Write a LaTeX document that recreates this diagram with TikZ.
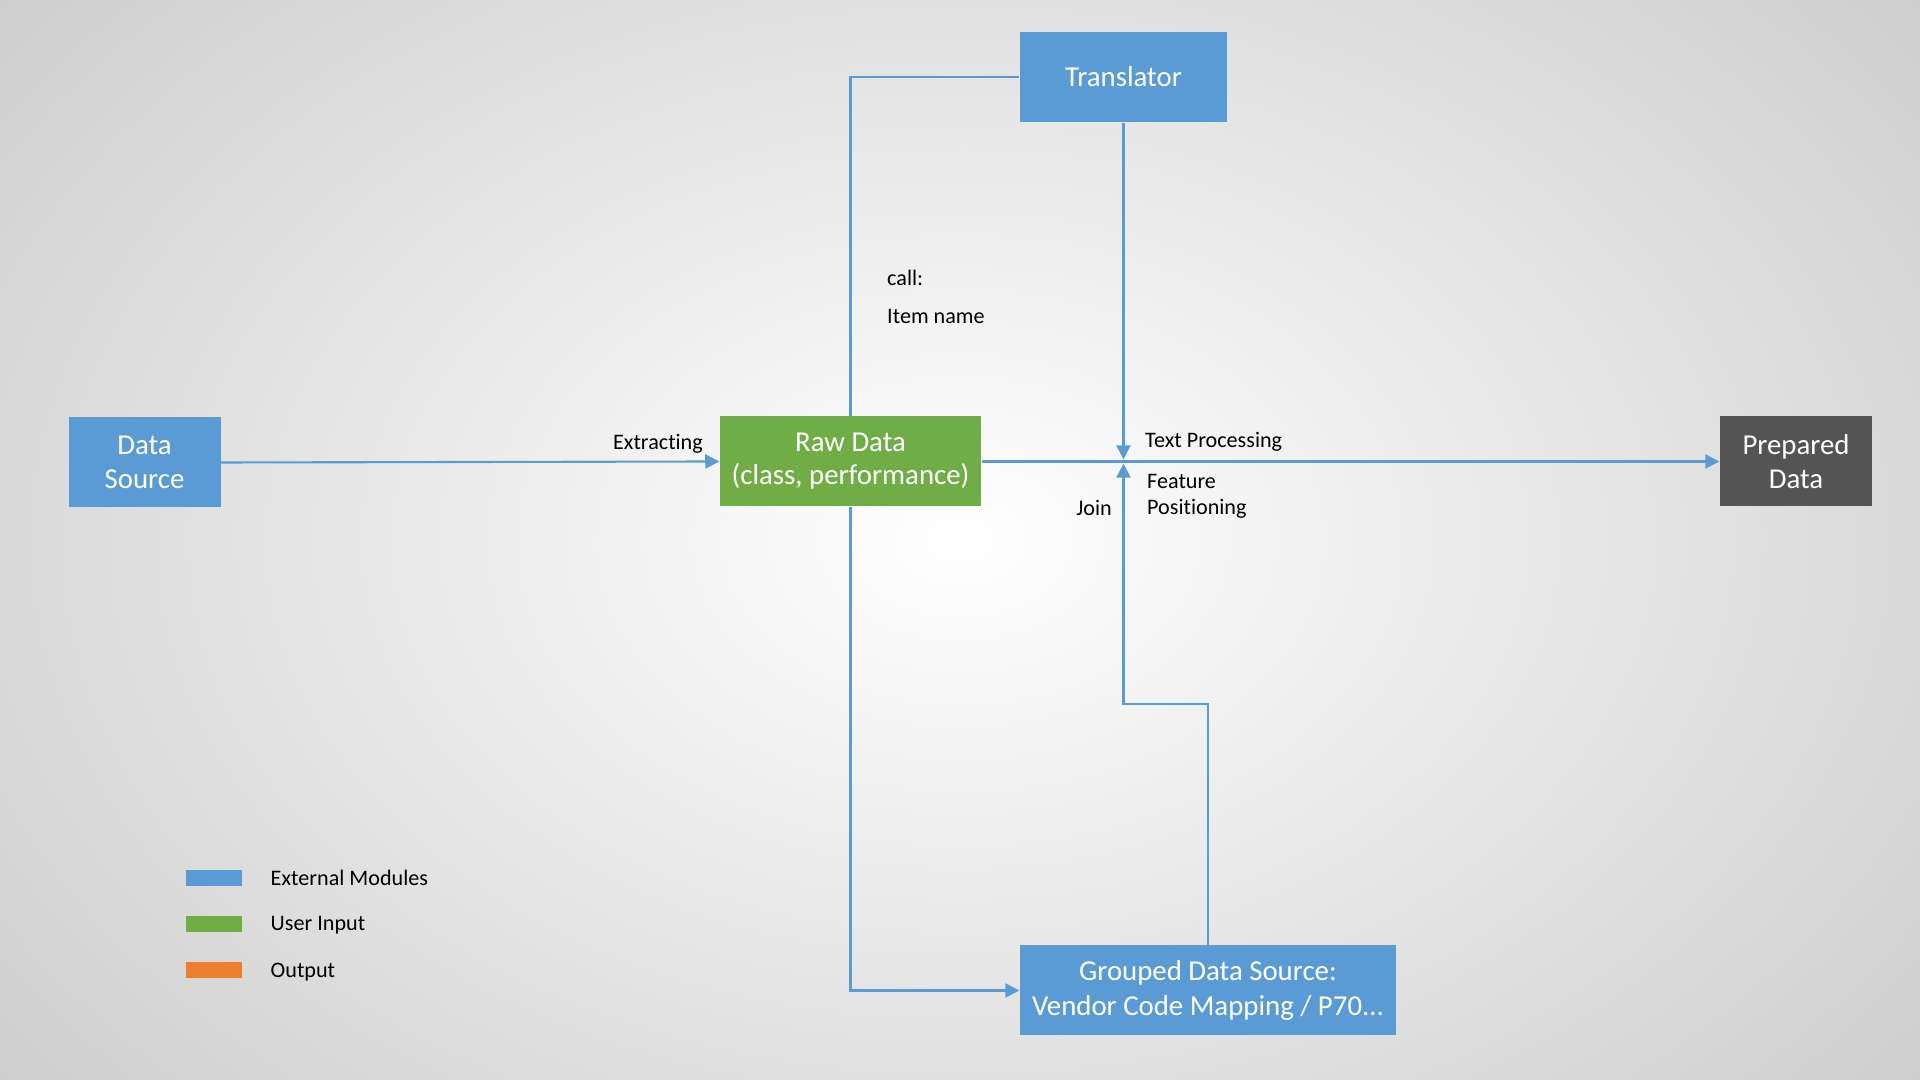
\documentclass[tikz,border=0pt]{standalone}
\usepackage{fontspec}
\setmainfont[Ligatures=NoCommon]{Carlito}
\usetikzlibrary{arrows.meta,calc,positioning}
\definecolor{ModClr}{RGB}{91,155,213}
\definecolor{InputClr}{RGB}{112,173,71}
\definecolor{OutClr}{RGB}{237,125,49}
\definecolor{PrepClr}{RGB}{84,84,84}
\definecolor{LineClr}{RGB}{91,155,213}

\tikzset{
  block/.style={draw=none,minimum height=0.9cm,inner sep=2pt,align=center,
    text=white,font=\fontsize{8.2}{9.7}\selectfont},
  flow/.style={draw=LineClr,line width=0.6pt},
  flowarrow/.style={flow,-{Triangle[length=4pt,width=4pt]}},
  lbl/.style={font=\fontsize{6.3}{7.5}\selectfont,inner sep=1pt},
  swatch/.style={minimum width=0.56cm,minimum height=0.16cm,inner sep=0pt}
}

\begin{document}
\begin{tikzpicture}
\useasboundingbox (0,0) rectangle (19.2,10.8);

% background
\begin{scope}
\clip (0,0) rectangle (19.2,10.8);
\shade[inner color=white,outer color=black!21] (-4,-4) rectangle (23.2,14.8);
\end{scope}

% boxes
\node[block,fill=ModClr,minimum width=1.52cm] (src) at (1.445,6.175) {Data\\Source};
\node[block,fill=InputClr,minimum width=2.61cm] (raw) at (8.505,6.185) {Raw Data\\[-0.3pt](class, performance)};
\node[block,fill=ModClr,minimum width=2.07cm] (trans) at (11.235,10.03) {Translator};
\node[block,fill=PrepClr,minimum width=1.52cm] (prep) at (17.96,6.185) {Prepared\\Data};
\node[block,fill=ModClr,minimum width=3.76cm] (group) at (12.08,0.895) {Grouped Data Source:\\Vendor Code Mapping / P70...};

\coordinate (jn) at (trans.south |- raw.east);
\coordinate (bend) at ($(group.north)+(0,2.41)$);

% connectors
\draw[flowarrow] (src.east) -- (raw.west);
\draw[flowarrow] (raw.east) -- (prep.west);
\draw[flow] (raw.north) |- (trans.west);
\draw[flowarrow] (raw.south) |- (group.west);
\draw[flowarrow,shorten >=0.6pt] (trans.south) -- (jn);
\draw[flowarrow,shorten >=0.6pt] (group.north) -- (bend) -| (jn);

% labels
\node[lbl,anchor=base east] (lext) at (7.07,6.30) {Extracting};
\node[lbl,anchor=base west] (lcall) at (8.83,7.94) {call:};
\node[lbl,anchor=base west] (litem) at (8.83,7.56) {Item name};
\node[lbl,anchor=base west] (ltext) at (11.41,6.32) {Text Processing};
\node[lbl,anchor=base west] (lfeat) at (11.43,5.91) {Feature};
\node[lbl,anchor=base west] (lpos) at (11.43,5.65) {Positioning};
\node[lbl,anchor=base east] (ljoin) at (11.16,5.645) {Join};

% legend
\node[swatch,fill=ModClr] (kmod) at (2.14,2.015) {};
\node[swatch,fill=InputClr] (kin) at (2.14,1.56) {};
\node[swatch,fill=OutClr] (kout) at (2.14,1.095) {};
\node[lbl,anchor=west] (tmod) at (2.665,2.02) {External Modules};
\node[lbl,anchor=west] (tin) at (2.665,1.545) {User Input};
\node[lbl,anchor=west] (tout) at (2.665,1.08) {Output};

\end{tikzpicture}
\end{document}
